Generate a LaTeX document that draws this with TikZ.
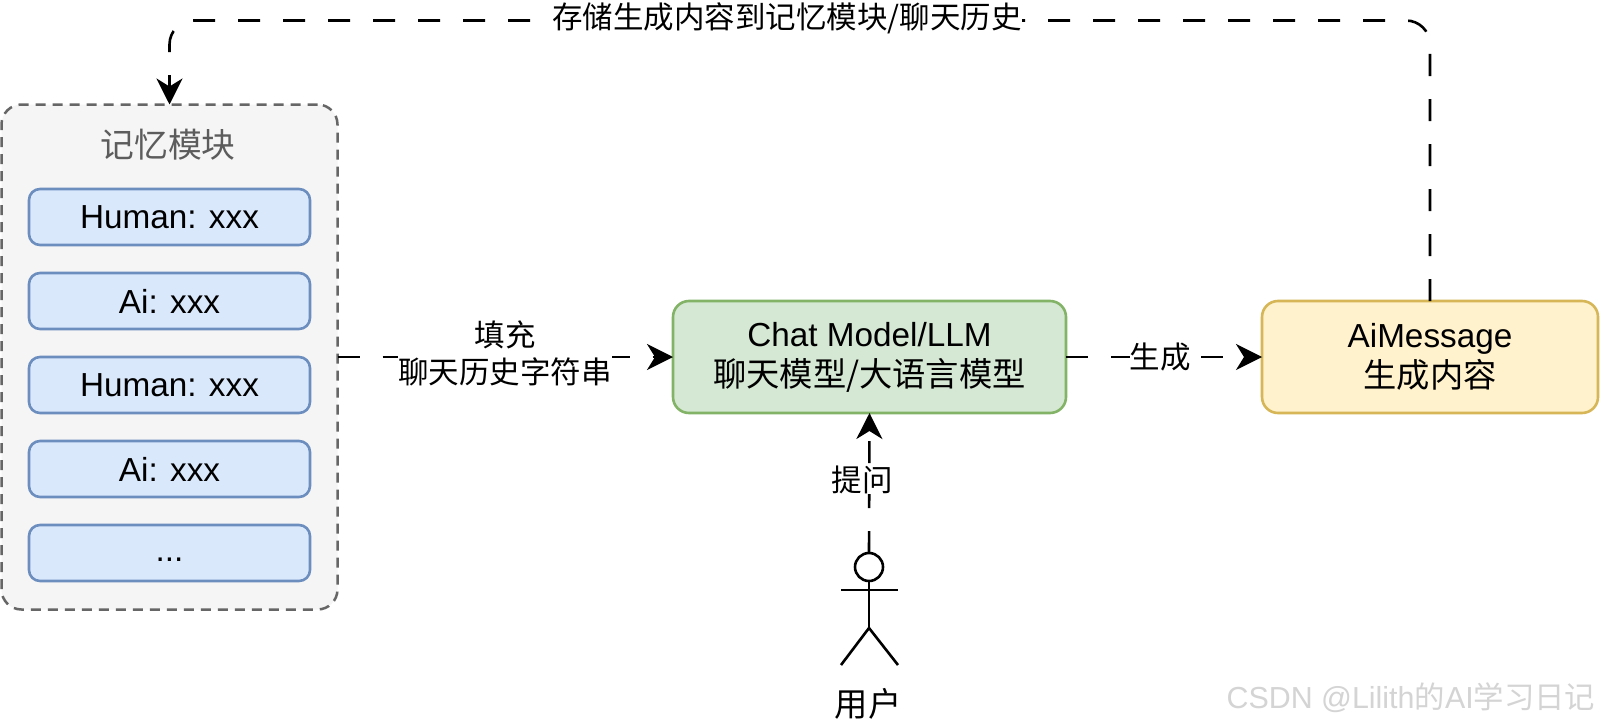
\documentclass[tikz,border=0pt]{standalone}
\usepackage{fontspec}
\setmainfont{Liberation Sans}
\newfontfamily\cjk{Noto Sans CJK SC}[Scale=1]
\usetikzlibrary{arrows.meta}
\definecolor{memfill}{HTML}{F5F5F5}
\definecolor{memline}{HTML}{666666}
\definecolor{bluefill}{HTML}{DAE8FC}
\definecolor{blueline}{HTML}{6C8EBF}
\definecolor{greenfill}{HTML}{D5E8D4}
\definecolor{greenline}{HTML}{82B366}
\definecolor{yellowfill}{HTML}{FFF2CC}
\definecolor{yellowline}{HTML}{D6B656}
\tikzset{
  base/.style={outer sep=0pt,inner sep=0pt,align=center,text=black,line width=2.6pt},
  big/.style={font=\fontsize{33.3}{40}\selectfont},
  small/.style={font=\fontsize{30.5}{37}\selectfont},
  membox/.style={base,draw=memline,fill=memfill,rounded corners=20pt,line width=2.5pt,dash pattern=on 10pt off 7pt,minimum width=336pt,minimum height=505pt},
  msgbox/.style={base,big,draw=blueline,fill=bluefill,rounded corners=11pt,minimum width=281pt,minimum height=56pt},
  chatbox/.style={base,big,draw=greenline,fill=greenfill,rounded corners=16pt,minimum width=393pt,minimum height=112pt},
  aibox/.style={base,big,draw=yellowline,fill=yellowfill,rounded corners=16pt,minimum width=336pt,minimum height=112pt},
  flow/.style={draw=black,line width=2.6pt,dash pattern=on 22pt off 23pt,-{Stealth[length=26pt,width=26pt,inset=8pt]}},
  lbl/.style={base,small,fill=white},
  stick/.style={draw=black,line width=2.6pt}
}
\begin{document}
\begin{tikzpicture}[x=1pt,y=-1pt]
\useasboundingbox (0,0) rectangle (1600,725);
\fill[white] (0,0) rectangle (1600,725);
\node[membox] (mem) at (169.5,357) {};
\node[base,font=\fontsize{33.8}{40}\selectfont,text=memline!90!black] (memtitle) at (168,145) {\cjk 记忆模块};
\node[msgbox] (m1) at (169.5,217) {Human: xxx};
\node[msgbox] (m2) at (169.5,301) {Ai: xxx};
\node[msgbox] (m3) at (169.5,385) {Human: xxx};
\node[msgbox] (m4) at (169.5,469) {Ai: xxx};
\node[msgbox] (m5) at (169.5,553) {\vphantom{Hg}...};
\node[chatbox] (chat) at (869.5,357) {Chat Model/LLM\\{\cjk 聊天模型/大语言模型}};
\node[aibox] (ai) at (1430,357) {AiMessage\\{\cjk 生成内容}};
% stick figure
\node[stick,draw,circle,minimum size=28pt,inner sep=0pt,outer sep=0pt] (head) at (869,567) {};
\coordinate (hip) at (869,628);
\coordinate (armL) at (841,590);
\coordinate (armR) at (898,590);
\coordinate (legL) at (841,665);
\coordinate (legR) at (898,665);
\draw[stick] (head.south) -- (hip);
\draw[stick] (armL) -- (armR);
\draw[stick] (legL) -- (hip) -- (legR);
\node[base,big] (user) at (868,704) {\cjk 用户};
% connectors
\draw[flow] (mem.east) -- (chat.west);
\node[lbl] (fill) at (505,353) {\cjk 填充\\\cjk 聊天历史字符串};
\draw[flow] (chat.east) -- (ai.west);
\node[lbl] (gen) at (1160,357) {\cjk 生成};
\draw[flow] (head.north) -- (chat.south);
\node[lbl] (ask) at (862,480) {\cjk 提问};
\coordinate (tr) at (ai.north |- 0,20.5);
\coordinate (tl) at (mem.north |- 0,20.5);
\draw[flow,rounded corners=24pt] (ai.north) -- (tr) -- (tl) -- (mem.north);
\node[lbl] (store) at (787,18) {\cjk 存储生成内容到记忆模块/聊天历史};
\node[base,font=\fontsize{30.4}{36}\selectfont,text=black!17] (mark) at (1411,698) {CSDN @Lilith{\cjk 的}AI{\cjk 学习日记}};
\end{tikzpicture}
\end{document}
